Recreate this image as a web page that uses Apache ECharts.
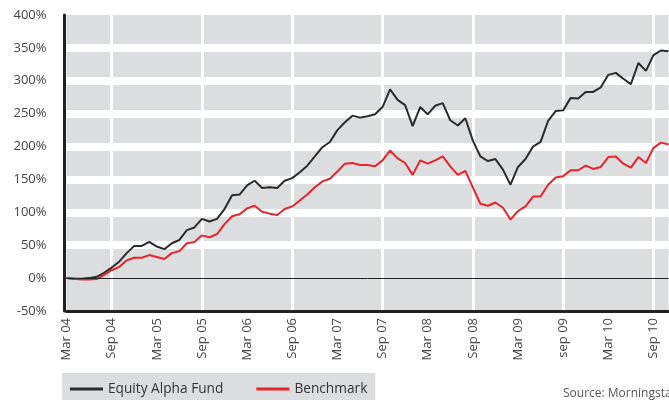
<!DOCTYPE html>
<html>
<head>
<meta charset="utf-8">
<script src="https://cdn.jsdelivr.net/npm/echarts@6/dist/echarts.min.js"></script>
<style>html,body{margin:0;padding:0;background:#fff}#c{width:669px;height:400px}</style>
</head>
<body>
<div id="c"></div>
<script>
// Monthly categories Mar 04 .. Nov 10
const monthNames = ['Jan','Feb','Mar','Apr','May','Jun','Jul','Aug','Sep','Oct','Nov','Dec'];
const categories = [];
for (let k = 0; k < 81; k++) {
  const m = (2 + k) % 12, y = 4 + Math.floor((2 + k) / 12);
  categories.push(monthNames[m] + ' ' + String(y).padStart(2, '0'));
}
const tickLabels = ['Mar 04','Sep 04','Mar 05','Sep 05','Mar 06','Sep 06','Mar 07','Sep 07','Mar 08','Sep 08','Mar 09','sep 09','Mar 10','Sep 10'];
const fund = [0,-1,-1,0,2,8,16,25,38,49,49,55,48,44,53,58,73,77,90,86,90,105,126,
  127,141,148,137,138,137,148,152,161,171,185,199,207,225,237,247,244,246,249,260,
  287,271,263,231,260,249,262,266,240,232,243,209,185,178,181,165,142,169,181,200,207,239,254,
  255,274,273,283,283,290,309,312,303,295,327,315,339,346,345];
const benchmark = [0,-1,-2,-2,-1.5,5,12,17,27,31,31,35,32,29,38,41,53,55,65,62,67,
  82,94,97,106,110,101,98,96,105,109,118,127,138,147,151,162,174,175,172,172,170,179,
  194,182,175,157,179,174,179,185,170,157,163,138,113,110,115,107,89,102,109,124,124,142,153,
  155,164,164,171,166,169,184,185,174,168,184,175,198,206,203];
const yTicks = [-50,0,50,100,150,200,250,300,350,400];

const FONT = '"Open Sans", "Noto Sans", sans-serif';
const chart = echarts.init(document.getElementById('c'), null, {renderer: 'canvas'});
const tr = 'rgba(0,0,0,0)';
chart.setOption({
  animation: false,
  backgroundColor: '#fff',
  grid: {left: 66.5, right: 0.5, top: 15, bottom: 89, show: true, backgroundColor: '#dcdddf', borderWidth: 0},
  legend: {
    left: 62, top: 373, backgroundColor: '#dcdddf', padding: [9, 8, 12, 8],
    itemWidth: 33, itemHeight: 3, itemGap: 33, icon: 'rect',
    textStyle: {fontFamily: FONT, fontSize: 13.7, color: '#333'},
    data: ['Equity Alpha Fund', 'Benchmark']
  },
  xAxis: {
    type: 'category', data: categories, boundaryGap: false,
    axisLine: {onZero: false, lineStyle: {color: '#222', width: 3}},
    axisTick: {show: false},
    axisLabel: {
      interval: 5, rotate: 90, margin: 7, fontFamily: FONT, fontSize: 13, color: '#444',
      formatter: (v, i) => tickLabels[Math.round(i / 6)] || ''
    },
    splitLine: {show: true, interval: (i) => i % 12 === 6, lineStyle: {color: '#fff', width: 3}}
  },
  yAxis: {
    type: 'value', min: -50, max: 400, interval: 50, offset: 2,
    axisLine: {show: true, lineStyle: {color: '#222', width: 3}},
    axisTick: {show: false},
    axisLabel: {margin: 18, fontFamily: FONT, fontSize: 13, color: '#444', formatter: '{value}%'},
    splitLine: {show: true, lineStyle: {width: 8, color: yTicks.map(t => (t === -50 || t === 0 || t === 400) ? tr : '#fff')}}
  },
  series: [
    {
      name: 'Equity Alpha Fund', type: 'line', data: fund, symbol: 'none',
      lineStyle: {color: '#2b2b2b', width: 2}, itemStyle: {color: '#2b2b2b'}, z: 3,
      markLine: {silent: true, symbol: ['none', 'none'], label: {show: false},
        lineStyle: {color: '#222', width: 1, type: 'solid'}, data: [{yAxis: 0}]}
    },
    {
      name: 'Benchmark', type: 'line', data: benchmark, symbol: 'none',
      lineStyle: {color: '#e8232b', width: 2}, itemStyle: {color: '#e8232b'}, z: 4
    }
  ],
  graphic: [{type: 'text', left: 563, top: 388, style: {text: 'Source: Morningstar', fontFamily: FONT, fontSize: 12, fill: '#555'}}]
});
</script>
</body>
</html>
